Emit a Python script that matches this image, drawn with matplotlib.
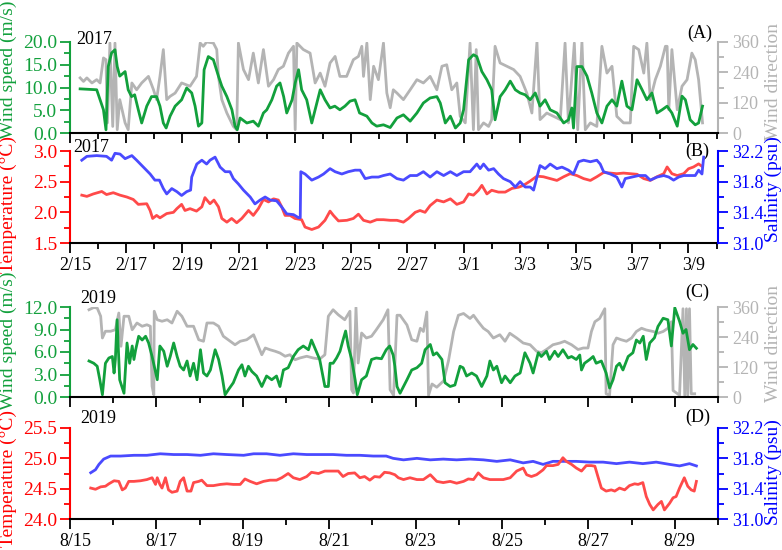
import numpy as np
import matplotlib
matplotlib.use('Agg')
import matplotlib.pyplot as plt
import matplotlib.transforms as mtransforms
from matplotlib.ticker import MultipleLocator, FormatStrFormatter, FixedLocator

plt.rcParams['font.family'] = ['Liberation Serif', 'DejaVu Serif']

# ---- data (days since 2/15 00:00, 2017 and since 8/15 00:00, 2019) ----
ws_2017 = [(0.36, 9.7), (0.95, 9.5), (1.07, 7.3), (1.19, 5.1), (1.28, 0.7), (1.36, 14.6), (1.48, 17.6),
           (1.6, 18.3), (1.68, 14.6), (1.77, 12.5), (1.96, 13.5), (2.07, 9.5), (2.19, 8.0), (2.3, 8.4),
           (2.43, 5.1), (2.55, 2.2), (2.73, 5.9), (2.9, 8.0), (3.08, 8.0), (3.2, 5.9), (3.32, 2.2),
           (3.42, 1.1), (3.56, 3.7), (3.74, 5.9), (3.97, 7.3), (4.15, 9.9), (4.33, 8.8), (4.45, 5.9),
           (4.57, 1.5), (4.69, 2.2), (4.77, 13.9), (4.92, 16.8), (5.1, 16.1), (5.28, 12.5), (5.4, 10.3),
           (5.58, 8.0), (5.76, 5.1), (5.87, 1.5), (5.95, 0.7), (6.05, 3.3), (6.29, 2.2), (6.52, 2.6),
           (6.7, 1.5), (6.88, 4.4), (7.0, 5.1), (7.18, 7.3), (7.35, 10.3), (7.47, 11.0), (7.6, 8.0),
           (7.71, 4.4), (7.9, 7.3), (8.01, 11.0), (8.13, 13.9), (8.24, 9.5), (8.42, 7.3), (8.6, 2.2),
           (8.72, 5.1), (8.9, 9.5), (9.07, 7.3), (9.25, 5.5), (9.42, 5.9), (9.6, 5.1), (9.78, 5.9),
           (9.96, 7.0), (10.14, 7.3), (10.3, 4.4), (10.56, 3.7), (10.74, 2.2), (10.91, 1.5), (11.15, 1.8),
           (11.39, 1.2), (11.63, 3.3), (11.86, 4.0), (12.1, 2.6), (12.34, 4.4), (12.57, 6.6), (12.81, 7.7),
           (13.05, 8.0), (13.17, 6.6), (13.35, 2.2), (13.53, 3.7), (13.71, 1.1), (13.88, 2.2), (14.0, 5.1),
           (14.18, 16.1), (14.35, 17.2), (14.47, 16.8), (14.65, 13.5), (14.83, 11.7), (15.0, 9.5),
           (15.12, 2.9), (15.3, 8.0), (15.48, 9.5), (15.66, 11.4), (15.84, 9.5), (16.01, 8.8), (16.19, 8.4),
           (16.37, 7.3), (16.55, 8.8), (16.72, 5.9), (16.9, 7.3), (17.08, 5.1), (17.32, 4.4), (17.56, 2.2),
           (17.73, 2.9), (17.85, 5.5), (17.91, 1.1), (18.03, 14.6), (18.21, 14.6), (18.39, 12.5),
           (18.56, 8.8), (18.74, 4.4), (18.92, 2.2), (19.1, 5.9), (19.28, 7.3), (19.45, 5.9), (19.63, 11.4),
           (19.81, 5.9), (19.99, 5.1), (20.17, 11.7), (20.35, 9.5), (20.52, 7.3), (20.7, 8.8), (20.88, 4.4),
           (21.06, 5.1), (21.24, 5.9), (21.41, 4.4), (21.6, 1.5), (21.77, 8.1), (21.89, 7.3), (22.06, 2.9),
           (22.24, 1.8), (22.36, 2.2), (22.5, 5.9)]

wd_2017 = [(0.36, 218), (0.48, 204), (0.6, 218), (0.78, 198), (0.95, 211), (1.07, 198), (1.19, 297),
           (1.28, 290), (1.33, 40), (1.42, 356), (1.52, 26), (1.6, 356), (1.68, 13), (1.77, 132), (1.96, 40),
           (2.07, 13), (2.2, 198), (2.37, 171), (2.55, 198), (2.79, 224), (2.97, 171), (3.08, 132),
           (3.2, 224), (3.32, 330), (3.44, 132), (3.56, 145), (3.74, 158), (3.97, 198), (4.27, 185),
           (4.5, 224), (4.63, 356), (4.74, 343), (4.86, 360), (5.1, 356), (5.22, 330), (5.28, 224),
           (5.4, 132), (5.58, 79), (5.81, 26), (5.93, 13), (5.99, 356), (6.17, 251), (6.35, 211),
           (6.52, 316), (6.7, 198), (6.88, 330), (7.06, 185), (7.24, 211), (7.41, 251), (7.59, 264),
           (7.77, 316), (7.95, 343), (8.01, 13), (8.07, 356), (8.3, 330), (8.54, 316), (8.72, 198),
           (8.9, 237), (9.07, 185), (9.25, 277), (9.43, 303), (9.6, 224), (9.84, 224), (10.08, 290),
           (10.26, 303), (10.38, 343), (10.44, 224), (10.56, 356), (10.68, 132), (10.8, 264), (10.97, 211),
           (11.15, 356), (11.27, 158), (11.39, 100), (11.5, 171), (11.63, 158), (11.86, 132), (12.1, 171),
           (12.34, 211), (12.57, 198), (12.81, 224), (13.05, 171), (13.23, 264), (13.4, 270), (13.58, 171),
           (13.76, 198), (13.88, 66), (14.06, 40), (14.23, 356), (14.35, 13), (14.45, 330), (14.53, 13),
           (14.71, 40), (14.89, 26), (15.0, 53), (15.12, 343), (15.3, 277), (15.54, 264), (15.78, 251),
           (16.01, 224), (16.25, 158), (16.43, 79), (16.61, 360), (16.72, 53), (16.96, 79), (17.2, 66),
           (17.44, 53), (17.61, 356), (17.73, 40), (17.94, 356), (18.06, 13), (18.21, 360), (18.33, 13),
           (18.51, 40), (18.74, 26), (18.92, 343), (19.1, 237), (19.28, 264), (19.45, 66), (19.69, 40),
           (19.93, 40), (20.05, 343), (20.23, 330), (20.41, 237), (20.52, 356), (20.64, 132), (20.82, 211),
           (21.0, 264), (21.18, 343), (21.24, 343), (21.3, 92), (21.41, 330), (21.6, 92), (21.77, 185),
           (21.95, 211), (22.12, 316), (22.24, 290), (22.36, 211), (22.5, 40)]

temp_2017 = [(0.42, 2.28), (0.6, 2.26), (0.83, 2.30), (1.13, 2.34), (1.3, 2.29), (1.54, 2.32), (1.78, 2.28),
             (2.02, 2.25), (2.25, 2.21), (2.43, 2.13), (2.73, 2.14), (2.85, 2.03), (2.94, 1.90), (3.08, 1.95),
             (3.2, 1.91), (3.44, 1.98), (3.68, 2.0), (3.8, 2.06), (3.97, 2.13), (4.09, 2.03), (4.27, 2.06),
             (4.5, 2.02), (4.69, 2.09), (4.8, 2.24), (4.98, 2.14), (5.12, 2.20), (5.28, 2.09), (5.4, 1.90),
             (5.58, 1.84), (5.75, 1.90), (5.93, 1.83), (6.11, 1.90), (6.35, 2.03), (6.52, 1.95), (6.7, 2.06),
             (6.88, 2.21), (7.06, 2.17), (7.24, 2.22), (7.41, 2.20), (7.53, 2.09), (7.65, 1.95), (7.83, 1.95),
             (8.0, 1.90), (8.24, 1.88), (8.36, 1.76), (8.6, 1.72), (8.84, 1.76), (9.07, 1.87), (9.25, 2.02),
             (9.37, 1.95), (9.55, 1.86), (9.85, 1.87), (10.08, 1.90), (10.26, 1.97), (10.44, 1.87),
             (10.68, 1.84), (10.91, 1.88), (11.15, 1.88), (11.39, 1.87), (11.63, 1.87), (11.86, 1.84),
             (12.04, 1.90), (12.28, 2.0), (12.45, 2.03), (12.63, 2.0), (12.81, 2.11), (13.05, 2.20),
             (13.29, 2.17), (13.53, 2.22), (13.76, 2.13), (14.0, 2.17), (14.18, 2.30), (14.35, 2.28),
             (14.53, 2.36), (14.65, 2.44), (14.83, 2.30), (15.0, 2.36), (15.24, 2.33), (15.48, 2.33),
             (15.72, 2.39), (15.96, 2.41), (16.13, 2.44), (16.37, 2.51), (16.61, 2.59), (16.84, 2.58),
             (17.08, 2.55), (17.32, 2.52), (17.56, 2.58), (17.79, 2.63), (18.03, 2.60), (18.27, 2.55),
             (18.51, 2.52), (18.74, 2.58), (18.98, 2.65), (19.22, 2.64), (19.45, 2.63), (19.69, 2.64),
             (19.93, 2.63), (20.17, 2.62), (20.41, 2.55), (20.64, 2.52), (20.88, 2.58), (21.12, 2.63),
             (21.24, 2.74), (21.41, 2.63), (21.6, 2.60), (21.83, 2.63), (22.0, 2.71), (22.18, 2.74),
             (22.36, 2.79), (22.48, 2.75)]

sal_2017 = [(0.42, 32.08), (0.6, 32.13), (0.95, 32.14), (1.3, 32.13), (1.48, 32.08), (1.6, 32.17),
            (1.78, 32.16), (1.96, 32.10), (2.2, 32.14), (2.37, 32.08), (2.61, 31.99), (2.85, 31.90),
            (3.02, 31.82), (3.18, 31.82), (3.32, 31.71), (3.44, 31.64), (3.62, 31.71), (3.8, 31.67),
            (3.97, 31.62), (4.15, 31.67), (4.29, 31.69), (4.33, 31.86), (4.51, 32.03), (4.69, 32.08),
            (4.86, 32.03), (4.98, 32.08), (5.16, 32.12), (5.34, 31.99), (5.52, 31.93), (5.69, 31.93),
            (5.81, 31.84), (5.99, 31.77), (6.17, 31.69), (6.41, 31.60), (6.58, 31.51), (6.76, 31.56),
            (6.94, 31.60), (7.12, 31.56), (7.35, 31.55), (7.53, 31.47), (7.71, 31.38), (7.95, 31.37),
            (8.13, 31.33), (8.19, 31.33), (8.21, 31.93), (8.36, 31.90), (8.6, 31.82), (8.84, 31.86),
            (9.02, 31.90), (9.25, 31.97), (9.43, 31.93), (9.67, 31.90), (9.9, 31.93), (10.14, 31.95),
            (10.32, 31.95), (10.5, 31.84), (10.74, 31.86), (10.97, 31.86), (11.15, 31.88), (11.39, 31.90),
            (11.63, 31.84), (11.86, 31.82), (12.1, 31.88), (12.34, 31.88), (12.57, 31.93), (12.81, 31.86),
            (13.05, 31.93), (13.29, 31.88), (13.53, 31.93), (13.76, 31.88), (14.0, 31.93), (14.23, 31.93),
            (14.47, 32.03), (14.59, 31.97), (14.71, 32.03), (14.89, 31.95), (15.07, 31.97), (15.24, 31.90),
            (15.42, 31.84), (15.66, 31.80), (15.84, 31.73), (16.01, 31.80), (16.19, 31.73), (16.37, 31.73),
            (16.49, 31.69), (16.61, 31.86), (16.72, 32.01), (16.9, 31.97), (17.08, 32.03), (17.32, 31.97),
            (17.5, 31.99), (17.73, 31.95), (17.91, 31.90), (18.09, 32.06), (18.27, 32.08), (18.51, 32.06),
            (18.74, 32.08), (18.86, 32.03), (18.98, 31.93), (19.22, 31.90), (19.45, 31.86), (19.63, 31.73),
            (19.75, 31.84), (19.99, 31.86), (20.23, 31.88), (20.47, 31.88), (20.64, 31.82), (20.88, 31.86),
            (21.12, 31.88), (21.3, 31.86), (21.47, 31.82), (21.65, 31.86), (21.83, 31.88), (22.06, 31.88),
            (22.24, 31.88), (22.36, 31.95), (22.48, 31.90), (22.54, 32.12)]

ws_2019 = [(0.44, 4.8), (0.55, 4.5), (0.63, 4.1), (0.69, 2.3), (0.75, 0.3), (0.82, 4.5), (0.9, 5.2),
           (0.98, 5.4), (1.02, 3.2), (1.05, 5.0), (1.09, 10.3), (1.15, 2.3), (1.25, 0.5), (1.32, 7.2),
           (1.38, 4.5), (1.44, 6.8), (1.48, 5.0), (1.52, 6.3), (1.59, 8.1), (1.67, 7.6), (1.75, 8.1),
           (1.82, 7.2), (1.9, 5.4), (1.95, 4.1), (2.02, 2.3), (2.08, 6.8), (2.17, 6.1), (2.25, 4.1),
           (2.32, 5.4), (2.4, 7.2), (2.48, 5.4), (2.55, 4.1), (2.63, 3.6), (2.71, 4.8), (2.78, 2.8),
           (2.86, 4.5), (2.94, 2.3), (3.02, 6.3), (3.09, 3.2), (3.17, 2.8), (3.25, 3.6), (3.36, 6.3),
           (3.44, 5.0), (3.52, 2.8), (3.59, 0.3), (3.67, 1.0), (3.78, 1.9), (3.9, 3.6), (3.98, 4.3),
           (4.05, 2.8), (4.13, 4.1), (4.21, 3.4), (4.32, 2.8), (4.44, 1.4), (4.55, 2.8), (4.67, 2.3),
           (4.78, 2.8), (4.86, 1.4), (4.94, 3.6), (5.05, 3.9), (5.17, 5.4), (5.28, 6.3), (5.4, 6.8),
           (5.52, 6.3), (5.59, 7.6), (5.67, 6.5), (5.78, 5.0), (5.9, 1.4), (5.98, 1.4), (6.02, 4.5),
           (6.09, 4.5), (6.17, 5.2), (6.25, 6.1), (6.32, 7.6), (6.38, 8.8), (6.44, 6.8), (6.52, 5.0),
           (6.6, 2.3), (6.65, 0.3), (6.75, 2.3), (6.86, 2.8), (6.98, 5.0), (7.09, 5.2), (7.21, 5.1),
           (7.32, 6.3), (7.4, 6.8), (7.48, 5.6), (7.52, 4.1), (7.57, 1.4), (7.64, 0.5), (7.72, 1.4),
           (7.8, 2.3), (7.91, 3.6), (8.03, 3.9), (8.14, 4.5), (8.22, 6.3), (8.34, 7.0), (8.41, 5.6),
           (8.49, 5.9), (8.61, 5.0), (8.68, 1.9), (8.8, 1.4), (8.91, 1.6), (9.03, 4.1), (9.1, 3.9),
           (9.18, 2.8), (9.3, 3.2), (9.41, 2.8), (9.53, 1.4), (9.65, 2.8), (9.72, 4.8), (9.8, 3.6),
           (9.88, 4.1), (9.99, 1.9), (10.07, 2.8), (10.19, 1.9), (10.3, 2.8), (10.42, 3.2), (10.53, 5.9),
           (10.65, 4.5), (10.72, 3.2), (10.84, 5.9), (10.91, 5.4), (11.03, 6.1), (11.1, 5.0), (11.22, 6.1),
           (11.3, 5.4), (11.41, 6.3), (11.53, 5.2), (11.61, 5.4), (11.72, 5.0), (11.8, 5.6), (11.84, 3.6),
           (11.91, 4.5), (12.03, 5.0), (12.11, 5.4), (12.18, 4.5), (12.3, 4.8), (12.41, 3.2), (12.49, 1.2),
           (12.57, 2.3), (12.65, 4.1), (12.72, 4.5), (12.8, 3.6), (12.92, 5.4), (13.03, 5.9), (13.11, 7.6),
           (13.19, 7.2), (13.27, 8.1), (13.34, 5.0), (13.42, 7.2), (13.53, 7.9), (13.61, 9.4),
           (13.73, 10.5), (13.84, 10.3), (13.92, 6.8), (14.0, 11.9), (14.11, 10.1), (14.19, 8.5),
           (14.26, 9.0), (14.34, 6.3), (14.42, 7.0), (14.5, 6.5)]

wd_2019 = [(0.44, 349), (0.55, 358), (0.63, 356), (0.71, 323), (0.75, 236), (0.82, 263), (0.94, 263),
           (1.05, 269), (1.13, 336), (1.18, 203), (1.25, 323), (1.36, 323), (1.44, 269), (1.55, 296),
           (1.67, 283), (1.78, 289), (1.86, 283), (1.9, 43), (1.94, 9), (1.95, 343), (2.02, 309),
           (2.13, 303), (2.25, 309), (2.36, 296), (2.48, 343), (2.59, 323), (2.71, 283), (2.86, 283),
           (2.98, 229), (3.09, 223), (3.17, 296), (3.32, 296), (3.44, 283), (3.55, 243), (3.71, 223),
           (3.82, 209), (3.94, 223), (4.09, 229), (4.25, 249), (4.36, 203), (4.44, 169), (4.52, 196),
           (4.63, 189), (4.75, 183), (4.86, 176), (4.98, 163), (5.09, 169), (5.21, 149), (5.32, 156),
           (5.48, 163), (5.63, 156), (5.78, 152), (5.9, 169), (5.98, 323), (6.09, 349), (6.21, 329),
           (6.36, 309), (6.48, 343), (6.52, 29), (6.56, 16), (6.62, 358), (6.67, 136), (6.75, 256),
           (6.86, 236), (6.98, 243), (7.09, 269), (7.25, 309), (7.36, 349), (7.41, 29), (7.49, 7),
           (7.57, 327), (7.64, 327), (7.8, 288), (7.91, 229), (8.03, 223), (8.11, 275), (8.18, 262),
           (8.26, 340), (8.3, 7), (8.38, 52), (8.49, 39), (8.65, 65), (8.76, 144), (8.88, 262), (8.99, 327),
           (9.11, 334), (9.26, 314), (9.34, 327), (9.45, 301), (9.57, 275), (9.68, 262), (9.8, 236),
           (9.95, 249), (10.07, 223), (10.18, 255), (10.34, 236), (10.49, 216), (10.65, 209), (10.8, 183),
           (10.91, 177), (11.03, 190), (11.18, 209), (11.34, 216), (11.45, 223), (11.61, 209), (11.76, 190),
           (11.88, 196), (11.99, 196), (12.07, 262), (12.15, 301), (12.26, 314), (12.38, 353), (12.41, 13),
           (12.49, 7), (12.57, 209), (12.65, 236), (12.76, 229), (12.88, 223), (13.0, 236), (13.11, 262),
           (13.23, 275), (13.34, 268), (13.5, 262), (13.61, 255), (13.73, 262), (13.84, 275), (13.92, 301),
           (13.96, 26), (14.11, 7), (14.19, 353), (14.23, 7), (14.27, 353), (14.3, 7), (14.34, 353),
           (14.38, 13), (14.46, 13)]

temp_2019 = [(0.48, 24.51), (0.59, 24.49), (0.71, 24.53), (0.82, 24.54), (0.9, 24.58), (1.02, 24.63),
             (1.13, 24.62), (1.21, 24.48), (1.28, 24.51), (1.36, 24.62), (1.48, 24.62), (1.63, 24.63),
             (1.78, 24.65), (1.9, 24.68), (1.98, 24.57), (2.02, 24.68), (2.08, 24.57), (2.13, 24.51),
             (2.21, 24.68), (2.28, 24.48), (2.36, 24.44), (2.48, 24.46), (2.55, 24.62), (2.63, 24.68),
             (2.71, 24.46), (2.8, 24.46), (2.86, 24.60), (2.98, 24.62), (3.05, 24.64), (3.17, 24.55),
             (3.32, 24.55), (3.48, 24.57), (3.63, 24.58), (3.78, 24.57), (3.94, 24.57), (4.05, 24.66),
             (4.17, 24.62), (4.32, 24.58), (4.48, 24.62), (4.63, 24.64), (4.78, 24.64), (4.9, 24.68),
             (5.05, 24.75), (5.17, 24.68), (5.32, 24.65), (5.48, 24.70), (5.59, 24.77), (5.75, 24.75),
             (5.9, 24.79), (6.05, 24.79), (6.21, 24.79), (6.32, 24.70), (6.44, 24.75), (6.59, 24.76),
             (6.71, 24.68), (6.82, 24.70), (6.94, 24.64), (7.05, 24.70), (7.17, 24.69), (7.28, 24.77),
             (7.4, 24.76), (7.52, 24.73), (7.6, 24.68), (7.72, 24.65), (7.87, 24.68), (8.03, 24.65),
             (8.18, 24.65), (8.34, 24.73), (8.49, 24.62), (8.64, 24.60), (8.8, 24.62), (8.95, 24.59),
             (9.11, 24.62), (9.22, 24.66), (9.34, 24.65), (9.45, 24.76), (9.57, 24.68), (9.72, 24.65),
             (9.88, 24.65), (10.03, 24.65), (10.19, 24.68), (10.34, 24.79), (10.49, 24.84), (10.57, 24.73),
             (10.68, 24.70), (10.8, 24.73), (10.95, 24.81), (11.03, 24.88), (11.18, 24.88), (11.3, 24.90),
             (11.41, 25.01), (11.49, 24.95), (11.61, 24.90), (11.72, 24.84), (11.84, 24.79), (11.95, 24.88),
             (12.07, 24.88), (12.15, 24.87), (12.22, 24.70), (12.3, 24.51), (12.41, 24.46), (12.53, 24.48),
             (12.61, 24.46), (12.72, 24.51), (12.84, 24.48), (12.95, 24.55), (13.07, 24.58), (13.15, 24.57),
             (13.26, 24.60), (13.34, 24.37), (13.42, 24.24), (13.5, 24.15), (13.61, 24.24), (13.69, 24.29),
             (13.76, 24.15), (13.88, 24.26), (13.96, 24.35), (14.03, 24.37), (14.11, 24.51), (14.22, 24.68),
             (14.3, 24.54), (14.38, 24.48), (14.45, 24.46), (14.5, 24.62)]

sal_2019 = [(0.48, 31.61), (0.59, 31.65), (0.67, 31.72), (0.78, 31.79), (0.94, 31.83), (1.17, 31.83),
            (1.48, 31.84), (1.78, 31.84), (2.09, 31.86), (2.4, 31.85), (2.71, 31.85), (3.02, 31.84),
            (3.32, 31.86), (3.63, 31.85), (4.02, 31.84), (4.25, 31.86), (4.55, 31.86), (4.86, 31.84),
            (5.17, 31.86), (5.48, 31.85), (5.78, 31.85), (6.09, 31.85), (6.4, 31.84), (6.71, 31.84),
            (7.02, 31.83), (7.32, 31.83), (7.48, 31.80), (7.72, 31.78), (8.03, 31.80), (8.34, 31.78),
            (8.64, 31.79), (8.95, 31.78), (9.26, 31.79), (9.57, 31.78), (9.88, 31.76), (10.19, 31.78),
            (10.49, 31.74), (10.72, 31.76), (10.95, 31.72), (11.18, 31.76), (11.41, 31.76), (11.72, 31.76),
            (12.03, 31.75), (12.34, 31.75), (12.65, 31.73), (12.95, 31.75), (13.26, 31.73), (13.57, 31.75),
            (13.88, 31.72), (14.11, 31.70), (14.34, 31.73), (14.5, 31.70)]

ticks_2017 = ['2/15', '2/17', '2/19', '2/21', '2/23', '2/25', '2/27', '3/1', '3/3', '3/5', '3/7', '3/9']
ticks_2019 = ['8/15', '8/17', '8/19', '8/21', '8/23', '8/25', '8/27', '8/29']
sal_ticks = [31.0, 31.4, 31.8, 32.2]

GREEN = '#12a03c'
GRAY = '#b4b4b4'
RED_L = '#ff4a4a'
BLUE_L = '#4a4aff'
RED = '#ff0000'
BLUE = '#0000ff'
FS = 13      # x tick labels, year / panel marks
FS_L = 14    # left tick labels and axis titles
FS_R = 13    # right tick labels
LW = 2.0

fig = plt.figure(figsize=(7.82, 5.5), dpi=100)
# shift x tick labels a little to the right, like the original
shift = mtransforms.ScaledTranslation(5 / 100, 0, fig.dpi_scale_trans)


def unzip(pairs):
    a = np.array(pairs)
    return a[:, 0], a[:, 1]


def style_x(ax, labels, xmax, show_labels):
    ax.set_xlim(0, xmax)
    ax.xaxis.set_major_locator(FixedLocator(np.arange(len(labels)) * 2))
    ax.xaxis.set_minor_locator(MultipleLocator(1))
    ax.tick_params(axis='x', which='major', direction='out', length=7, width=1.3, labelsize=FS, pad=3)
    ax.tick_params(axis='x', which='minor', direction='out', length=4, width=1.3)
    if show_labels:
        ax.set_xticklabels(labels)
        for lab in ax.get_xticklabels():
            lab.set_transform(lab.get_transform() + shift)
    else:
        ax.set_xticklabels([])


def style_pair(ax, tw, lcol, rcol):
    ax.spines['top'].set_visible(False)
    tw.spines['top'].set_visible(False)
    tw.spines['bottom'].set_visible(False)
    tw.spines['left'].set_visible(False)
    ax.spines['right'].set_visible(False)
    ax.spines['left'].set_color(lcol)
    tw.spines['right'].set_color(rcol)
    for s in ['left', 'bottom']:
        ax.spines[s].set_linewidth(1.5)
    tw.spines['right'].set_linewidth(1.5)
    ax.tick_params(axis='y', which='both', colors=lcol, labelsize=FS_L, direction='out', width=1.3, pad=2)
    ax.tick_params(axis='y', which='major', length=7)
    ax.tick_params(axis='y', which='minor', length=4)
    tw.tick_params(axis='y', which='both', colors=rcol, labelsize=FS_R, direction='out', width=1.3, pad=3)
    tw.tick_params(axis='y', which='major', length=7)
    tw.tick_params(axis='y', which='minor', length=4)


def sal_axis(tw):
    tw.set_ylim(31.0, 32.2)
    tw.yaxis.set_major_locator(FixedLocator(sal_ticks))
    tw.yaxis.set_minor_locator(FixedLocator([31.2, 31.6, 32.0]))
    tw.yaxis.set_major_formatter(FormatStrFormatter('%.1f'))


def dir_axis(tw):
    tw.set_ylim(0, 360)
    tw.yaxis.set_major_locator(MultipleLocator(120))
    tw.yaxis.set_minor_locator(MultipleLocator(60))


L, W = 70 / 782, 648 / 782
boxes = {'A': (42, 133), 'B': (151, 243), 'C': (307, 397), 'D': (428, 519)}
axs = {}
for k, (t, b) in boxes.items():
    axs[k] = fig.add_axes([L, 1 - b / 550, W, (b - t) / 550])

LX, RX = -0.082, 1.072

# (A) wind 2017
ax = axs['A']
tw = ax.twinx()
ax.set_zorder(tw.get_zorder() + 1)
ax.patch.set_visible(False)
x, y = unzip(ws_2017)
ax.plot(x, y, color=GREEN, lw=LW)
x, y = unzip(wd_2017)
tw.plot(x, y, color=GRAY, lw=LW)
ax.set_ylim(0, 20)
ax.yaxis.set_major_locator(MultipleLocator(5))
ax.yaxis.set_minor_locator(MultipleLocator(2.5))
ax.yaxis.set_major_formatter(FormatStrFormatter('%.1f'))
dir_axis(tw)
style_pair(ax, tw, GREEN, GRAY)
style_x(ax, ticks_2017, 23.05, False)
ax.set_ylabel('Wind speed (m/s)', color=GREEN, fontsize=FS_L)
ax.yaxis.set_label_coords(LX, 0.70)
tw.set_ylabel('Wind direction', color=GRAY, fontsize=FS_L)
tw.yaxis.set_label_coords(RX, 0.57)
ax.text(0.037, 1.03, '2017', transform=ax.transAxes, ha='center', va='center', fontsize=FS)
ax.text(0.972, 1.10, '(A)', transform=ax.transAxes, ha='center', va='center', fontsize=FS)

# (B) temperature / salinity 2017
ax = axs['B']
tw = ax.twinx()
x, y = unzip(temp_2017)
ax.plot(x, y, color=RED_L, lw=LW)
x, y = unzip(sal_2017)
tw.plot(x, y, color=BLUE_L, lw=LW)
ax.set_ylim(1.5, 3.0)
ax.yaxis.set_major_locator(MultipleLocator(0.5))
ax.yaxis.set_minor_locator(MultipleLocator(0.25))
ax.yaxis.set_major_formatter(FormatStrFormatter('%.1f'))
sal_axis(tw)
style_pair(ax, tw, RED, BLUE)
style_x(ax, ticks_2017, 23.05, True)
ax.set_ylabel('Temperature (\u00b0C)', color=RED, fontsize=FS_L)
ax.yaxis.set_label_coords(LX, 0.42)
tw.set_ylabel('Salinity (psu)', color=BLUE, fontsize=FS_L)
tw.yaxis.set_label_coords(RX, 0.59)
ax.text(0.032, 1.04, '2017', transform=ax.transAxes, ha='center', va='center', fontsize=FS)
ax.text(0.968, 1.0, '(B)', transform=ax.transAxes, ha='center', va='center', fontsize=FS)

# (C) wind 2019
ax = axs['C']
tw = ax.twinx()
ax.set_zorder(tw.get_zorder() + 1)
ax.patch.set_visible(False)
x, y = unzip(ws_2019)
ax.plot(x, y, color=GREEN, lw=LW)
x, y = unzip(wd_2019)
tw.plot(x, y, color=GRAY, lw=LW)
ax.set_ylim(0, 12)
ax.yaxis.set_major_locator(MultipleLocator(3))
ax.yaxis.set_minor_locator(MultipleLocator(1.5))
ax.yaxis.set_major_formatter(FormatStrFormatter('%.1f'))
dir_axis(tw)
style_pair(ax, tw, GREEN, GRAY)
style_x(ax, ticks_2019, 15.0, False)
ax.set_ylabel('Wind speed (m/s)', color=GREEN, fontsize=FS_L)
ax.yaxis.set_label_coords(LX, 0.62)
tw.set_ylabel('Wind direction', color=GRAY, fontsize=FS_L)
tw.yaxis.set_label_coords(RX, 0.60)
ax.text(0.043, 1.09, '2019', transform=ax.transAxes, ha='center', va='center', fontsize=FS)
ax.text(0.968, 1.167, '(C)', transform=ax.transAxes, ha='center', va='center', fontsize=FS)

# (D) temperature / salinity 2019
ax = axs['D']
tw = ax.twinx()
x, y = unzip(sal_2019)
tw.plot(x, y, color=BLUE_L, lw=LW)
x, y = unzip(temp_2019)
ax.plot(x, y, color=RED_L, lw=LW)
ax.set_zorder(tw.get_zorder() + 1)
ax.patch.set_visible(False)
ax.set_ylim(24.0, 25.5)
ax.yaxis.set_major_locator(MultipleLocator(0.5))
ax.yaxis.set_minor_locator(MultipleLocator(0.25))
ax.yaxis.set_major_formatter(FormatStrFormatter('%.1f'))
sal_axis(tw)
style_pair(ax, tw, RED, BLUE)
style_x(ax, ticks_2019, 15.0, True)
ax.set_ylabel('Temperature (\u00b0C)', color=RED, fontsize=FS_L)
ax.yaxis.set_label_coords(LX, 0.45)
tw.set_ylabel('Salinity (psu)', color=BLUE, fontsize=FS_L)
tw.yaxis.set_label_coords(RX, 0.52)
ax.text(0.043, 1.10, '2019', transform=ax.transAxes, ha='center', va='center', fontsize=FS)
ax.text(0.968, 1.12, '(D)', transform=ax.transAxes, ha='center', va='center', fontsize=FS)

fig.savefig('out.png', dpi=100)
